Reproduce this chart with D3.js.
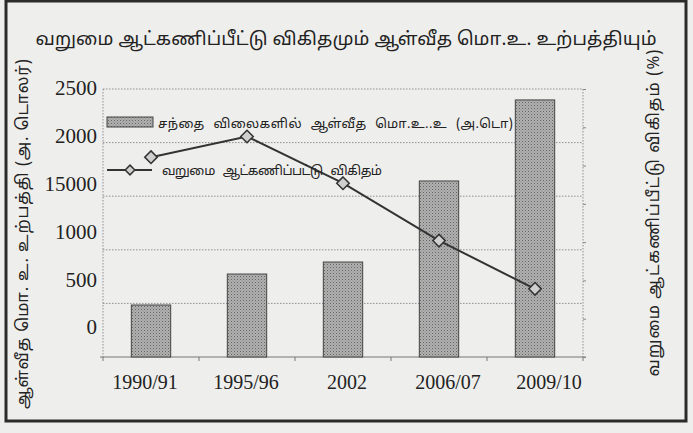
<!DOCTYPE html>
<html>
<head>
<meta charset="utf-8">
<script src="https://cdn.jsdelivr.net/npm/d3@7"></script>
<style>
  body { margin: 0; background: #eeeeec; }
  .ta { font-family: "Noto Sans Tamil", "Lohit Tamil", "Latha", "Noto Sans", sans-serif; fill: #222; }
  .num { font-family: "Liberation Serif", "Times New Roman", serif; fill: #222; }
</style>
</head>
<body>
<div id="chart"></div>
<script>
// Data
const periods = ["1990/91", "1995/96", "2002", "2006/07", "2009/10"];
const gdpPerCapita = [485, 774, 886, 1642, 2398];      // bars, US$
const povertyRate = [26.1, 28.8, 22.7, 15.2, 8.9];     // line, %
const leftTickLabels = ["2500", "2000", "15000", "1000", "500", "0"];
const gridValues = [0, 500, 1000, 1500, 2000, 2500];
const rightTicks = [0, 5, 10, 15, 20, 25, 30, 35];

const titleText = "வறுமை ஆட்கணிப்பீட்டு விகிதமும் ஆள்வீத மொ.உ. உற்பத்தியும்";
const leftTitle = "ஆள்வீத மொ. உ. உற்பத்தி (அ. டொலர்)";
const rightTitle = "வறுமை ஆட்கணிப்பீட்டு விகிதம் (%)";
const barLegend = "சந்தை விலைகளில் ஆள்வீத மொ.உ..உ (அ.டொ)";
const lineLegend = "வறுமை ஆட்கணிப்பட்டு விகிதம்";

const W = 693, H = 433;
const plot = {left: 103, right: 583, top: 89, bottom: 357};

const svg = d3.select("#chart")
  .append("svg")
  .attr("width", W)
  .attr("height", H);

// dotted texture for bars
const defs = svg.append("defs");
const pat = defs.append("pattern")
  .attr("id", "dots")
  .attr("width", 3)
  .attr("height", 3)
  .attr("patternUnits", "userSpaceOnUse");
pat.append("rect").attr("width", 3).attr("height", 3).attr("fill", "#b0b0b0");
pat.append("rect").attr("width", 1).attr("height", 1).attr("fill", "#666");
pat.append("rect").attr("x", 1.5).attr("y", 1.5).attr("width", 1).attr("height", 1).attr("fill", "#858585");

svg.append("rect")
  .attr("width", W).attr("height", H)
  .attr("fill", "#eeeeec");

// outer frame
svg.append("rect")
  .attr("x", 6).attr("y", 1)
  .attr("width", 680).attr("height", 420)
  .attr("fill", "none")
  .attr("stroke", "#2b2b2b")
  .attr("stroke-width", 3);

// scales
const x = d3.scaleBand()
  .domain(periods)
  .range([plot.left, plot.right])
  .paddingInner(0.59)
  .paddingOuter(0.295);

const yLeft = d3.scaleLinear()
  .domain([0, 2500])
  .range([plot.bottom, plot.top]);

const yRight = d3.scaleLinear()
  .domain([0, 35])
  .range([plot.bottom, plot.top]);

// tick labels in the picture do not sit on the gridlines
const yLabel = d3.scalePoint()
  .domain(leftTickLabels)
  .range([88, 327]);

const xLabel = d3.scalePoint()
  .domain(periods)
  .range([145, 549]);

// gridlines
svg.append("g")
  .selectAll("line")
  .data(gridValues.slice(1))
  .join("line")
  .attr("x1", plot.left).attr("x2", plot.right)
  .attr("y1", d => yLeft(d)).attr("y2", d => yLeft(d))
  .attr("stroke", "#777")
  .attr("stroke-width", 0.8)
  .attr("stroke-dasharray", "1.5,1.5");

// plot side borders
[plot.left, plot.right].forEach(px => {
  svg.append("line")
    .attr("x1", px).attr("x2", px)
    .attr("y1", plot.top).attr("y2", plot.bottom)
    .attr("stroke", "#777")
    .attr("stroke-width", 0.8)
    .attr("stroke-dasharray", "1.5,1.5");
});

// bottom axis
const xAxis = svg.append("g")
  .attr("transform", `translate(0,${plot.bottom})`);
xAxis.append("line")
  .attr("x1", plot.left - 3).attr("x2", plot.right + 3)
  .attr("stroke", "#777").attr("stroke-width", 1);
xAxis.selectAll(".tk")
  .data(d3.range(periods.length + 1))
  .join("line")
  .attr("x1", i => plot.left + i * x.step())
  .attr("x2", i => plot.left + i * x.step())
  .attr("y1", 0).attr("y2", 4)
  .attr("stroke", "#777");

// right axis ticks (no labels)
svg.append("g")
  .attr("transform", `translate(${plot.right},0)`)
  .call(d3.axisRight(yRight).tickValues(rightTicks).tickSize(3).tickFormat(""))
  .call(g => g.select(".domain").remove())
  .call(g => g.selectAll("line").attr("stroke", "#888"));

// bars
svg.append("g")
  .selectAll("rect")
  .data(periods)
  .join("rect")
  .attr("x", (d) => x(d))
  .attr("y", (d, i) => yLeft(gdpPerCapita[i]))
  .attr("width", x.bandwidth())
  .attr("height", (d, i) => yLeft(0) - yLeft(gdpPerCapita[i]))
  .attr("fill", "url(#dots)")
  .attr("stroke", "#444")
  .attr("stroke-width", 1);

// line
const linePts = periods.map((p, i) => [x(p) + x.bandwidth() / 2, yRight(povertyRate[i])]);
svg.append("path")
  .datum(linePts)
  .attr("fill", "none")
  .attr("stroke", "#333")
  .attr("stroke-width", 2)
  .attr("d", d3.line());

const diamond = d3.symbol().type(d3.symbolDiamond2).size(100);
svg.append("g")
  .selectAll("path")
  .data(linePts)
  .join("path")
  .attr("transform", d => `translate(${d[0]},${d[1]})`)
  .attr("d", diamond)
  .attr("fill", "#cfcfcf")
  .attr("stroke", "#333")
  .attr("stroke-width", 1.5);

// left tick labels
svg.append("g")
  .selectAll("text")
  .data(leftTickLabels)
  .join("text")
  .attr("class", "num")
  .attr("x", 97)
  .attr("y", d => yLabel(d))
  .attr("dy", "0.35em")
  .attr("text-anchor", "end")
  .style("font-size", "21px")
  .text(d => d);

// x labels
svg.append("g")
  .selectAll("text")
  .data(periods)
  .join("text")
  .attr("class", "num")
  .attr("x", d => xLabel(d))
  .attr("y", 389)
  .attr("text-anchor", "middle")
  .style("font-size", "20px")
  .text(d => d);

// title
svg.append("text")
  .attr("class", "ta")
  .attr("x", 346)
  .attr("y", 45)
  .attr("text-anchor", "middle")
  .attr("textLength", 621)
  .attr("lengthAdjust", "spacing")
  .style("font-size", "18.5px")
  .text(titleText);

// axis titles
svg.append("text")
  .attr("class", "ta")
  .attr("transform", "translate(28,234) rotate(-90)")
  .attr("text-anchor", "middle")
  .attr("textLength", 350)
  .attr("lengthAdjust", "spacing")
  .style("font-size", "16.5px")
  .text(leftTitle);

svg.append("text")
  .attr("class", "ta")
  .attr("transform", "translate(659,213) rotate(-90)")
  .attr("text-anchor", "middle")
  .attr("textLength", 327)
  .attr("lengthAdjust", "spacing")
  .style("font-size", "16.5px")
  .text(rightTitle);

// legend
const legend = svg.append("g");
legend.append("rect")
  .attr("x", 107).attr("y", 117)
  .attr("width", 46).attr("height", 10)
  .attr("fill", "url(#dots)")
  .attr("stroke", "#444");
legend.append("text")
  .attr("class", "ta")
  .attr("x", 158).attr("y", 128)
  .attr("textLength", 355)
  .attr("lengthAdjust", "spacing")
  .style("font-size", "13px")
  .style("word-spacing", "5px")
  .text(barLegend);

legend.append("line")
  .attr("x1", 107).attr("x2", 152)
  .attr("y1", 170).attr("y2", 170)
  .attr("stroke", "#333").attr("stroke-width", 2);
legend.append("path")
  .attr("transform", "translate(130,170)")
  .attr("d", d3.symbol().type(d3.symbolDiamond2).size(60))
  .attr("fill", "#cfcfcf")
  .attr("stroke", "#333")
  .attr("stroke-width", 1.5);
legend.append("text")
  .attr("class", "ta")
  .attr("x", 162).attr("y", 175)
  .attr("textLength", 220)
  .attr("lengthAdjust", "spacing")
  .style("font-size", "13px")
  .style("word-spacing", "5px")
  .text(lineLegend);
</script>
</body>
</html>
